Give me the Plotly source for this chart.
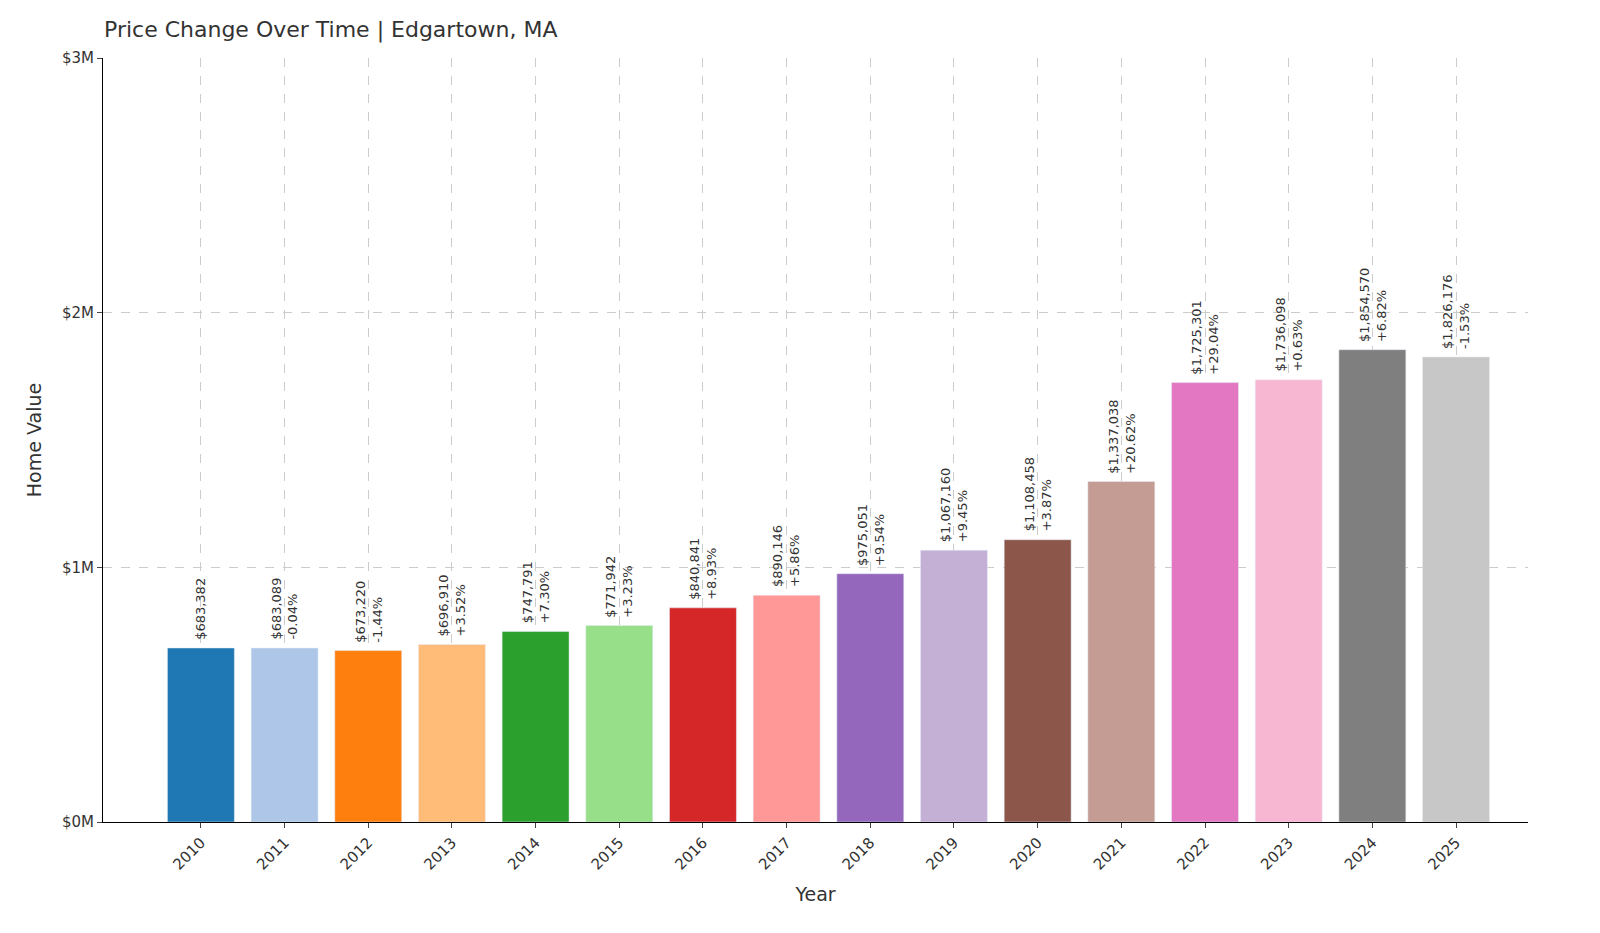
import plotly.graph_objects as go

years = [str(y) for y in range(2010, 2026)]
values = [683382, 683089, 673220, 696910, 747791, 771942, 840841, 890146, 975051,
          1067160, 1108458, 1337038, 1725301, 1736098, 1854570, 1826176]
pct_labels = ["", "-0.04%", "-1.44%", "+3.52%", "+7.30%", "+3.23%", "+8.93%", "+5.86%",
              "+9.54%", "+9.45%", "+3.87%", "+20.62%", "+29.04%", "+0.63%", "+6.82%", "-1.53%"]
colors = ["#1f77b4", "#aec7e8", "#ff7f0e", "#ffbb78", "#2ca02c", "#98df8a", "#d62728", "#ff9896",
          "#9467bd", "#c5b0d5", "#8c564b", "#c49c94", "#e377c2", "#f7b6d2", "#7f7f7f", "#c7c7c7"]
ytick_vals = [0, 1000000, 2000000, 3000000]
ytick_text = ["$0M", "$1M", "$2M", "$3M"]

xs = list(range(len(years)))
fig = go.Figure(go.Bar(x=xs, y=values, marker_color=colors, width=0.8, showlegend=False))

for i, v in enumerate(values):
    txt = f"${v:,}" + (f"<br>{pct_labels[i]}" if pct_labels[i] else "")
    fig.add_annotation(x=i, y=v, text=txt, textangle=-90, showarrow=False,
                       yanchor="bottom", xanchor="center", yshift=6, align="left",
                       font=dict(size=13, color="#333"))

font = "DejaVu Sans, sans-serif"
fig.update_layout(
    width=1600, height=933, plot_bgcolor="white", paper_bgcolor="white",
    font=dict(family=font, size=15, color="#333"),
    margin=dict(l=95, r=80, t=50, b=119),
    title=dict(text="Price Change Over Time | Edgartown, MA", x=0.06, xanchor="left",
               y=0.985, yanchor="top", font=dict(size=22, color="#333")),
    bargap=0.2,
)
fig.update_xaxes(range=[-1.17, 15.86], tickvals=xs, ticktext=years, tickangle=-45,
                 showgrid=True, gridcolor="#cccccc", griddash="dash",
                 showline=True, linecolor="black", ticks="outside", ticklen=5,
                 title=dict(text="Year", font=dict(size=19)), tickfont=dict(size=15))
fig.update_yaxes(range=[0, 3000000], tickvals=ytick_vals, ticktext=ytick_text,
                 showgrid=True, gridcolor="#cccccc", griddash="dash",
                 showline=True, linecolor="black", ticks="outside", ticklen=5,
                 zeroline=False,
                 title=dict(text="Home Value", font=dict(size=19)), tickfont=dict(size=15))
fig.write_html("out.html")
